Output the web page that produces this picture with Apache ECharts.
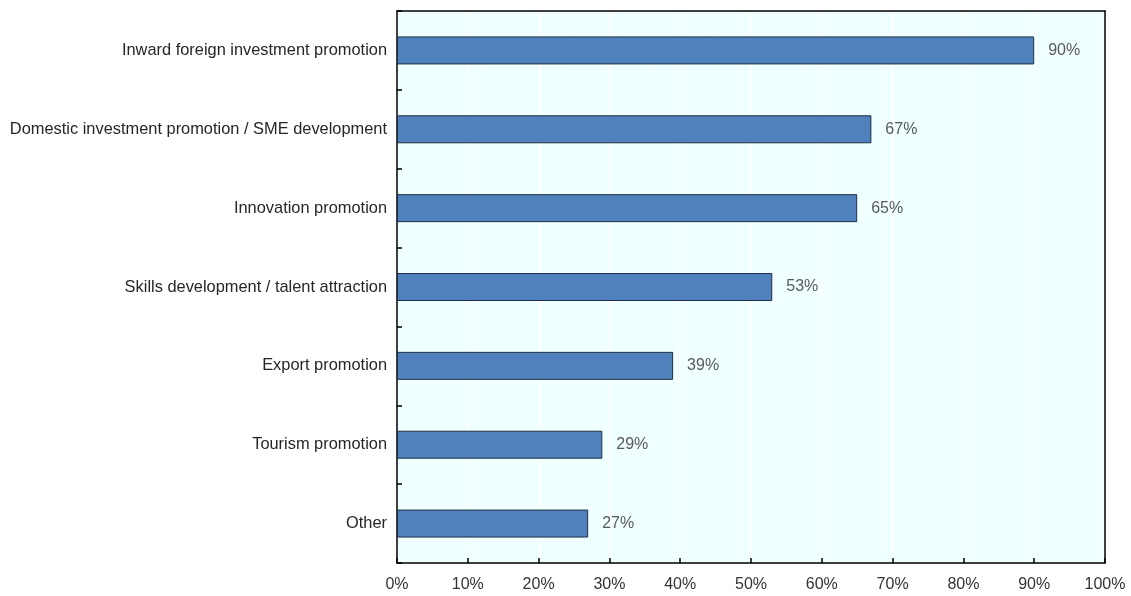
<!DOCTYPE html>
<html>
<head>
<meta charset="utf-8">
<script src="https://cdn.jsdelivr.net/npm/echarts@6/dist/echarts.min.js"></script>
<style>
  html, body { margin: 0; padding: 0; background: #ffffff; }
  #chart { width: 1131px; height: 596px; }
</style>
</head>
<body>
<div id="chart"></div>
<script>
// Share of agencies by mandate (%)
const categories = [
  'Inward foreign investment promotion',
  'Domestic investment promotion / SME development',
  'Innovation promotion',
  'Skills development / talent attraction',
  'Export promotion',
  'Tourism promotion',
  'Other'
];
const shares = [90, 67, 65, 53, 39, 29, 27];
const xTicks = [0, 10, 20, 30, 40, 50, 60, 70, 80, 90, 100];

const chart = echarts.init(document.getElementById('chart'), null, { renderer: 'canvas' });
const font = '"Liberation Sans", Arial, sans-serif';
const frame = { show: true, onZero: false, lineStyle: { color: '#000', width: 1.5 } };

chart.setOption({
  animation: false,
  grid: {
    left: 397, right: 26, top: 11, bottom: 33,
    show: true,
    backgroundColor: '#F0FFFF',
    borderWidth: 0
  },
  xAxis: [{
    type: 'value',
    min: xTicks[0],
    max: xTicks[xTicks.length - 1],
    interval: 10,
    axisLine: frame,
    axisTick: { show: true, inside: true, length: 5, lineStyle: { color: '#000', width: 1.5 } },
    splitLine: { show: true, showMinLine: false, showMaxLine: false, lineStyle: { color: '#ffffff', width: 1.5 } },
    axisLabel: {
      margin: 14,
      color: '#333333',
      fontFamily: font,
      fontSize: 16,
      formatter: v => v + '%'
    }
  }, {
    // top edge of the frame
    type: 'value',
    position: 'top',
    min: xTicks[0],
    max: xTicks[xTicks.length - 1],
    axisLine: frame,
    axisTick: { show: false },
    axisLabel: { show: false },
    splitLine: { show: false }
  }],
  yAxis: [{
    type: 'category',
    data: categories,
    inverse: true,
    axisLine: frame,
    axisTick: { show: true, inside: true, length: 5, lineStyle: { color: '#000', width: 1.5 } },
    splitLine: { show: false },
    axisLabel: {
      margin: 10,
      color: '#262626',
      fontFamily: font,
      fontSize: 16.4
    }
  }, {
    // right edge of the frame
    type: 'category',
    data: categories,
    inverse: true,
    position: 'right',
    axisLine: frame,
    axisTick: { show: false },
    axisLabel: { show: false },
    splitLine: { show: false }
  }],
  series: [{
    type: 'bar',
    data: shares,
    barWidth: 28,
    itemStyle: { color: '#4F81BD', borderColor: '#1F2F44', borderWidth: 1 },
    label: {
      show: true,
      position: 'right',
      distance: 14,
      color: '#595959',
      fontFamily: font,
      fontSize: 16,
      formatter: p => p.value + '%'
    }
  }]
});
</script>
</body>
</html>
